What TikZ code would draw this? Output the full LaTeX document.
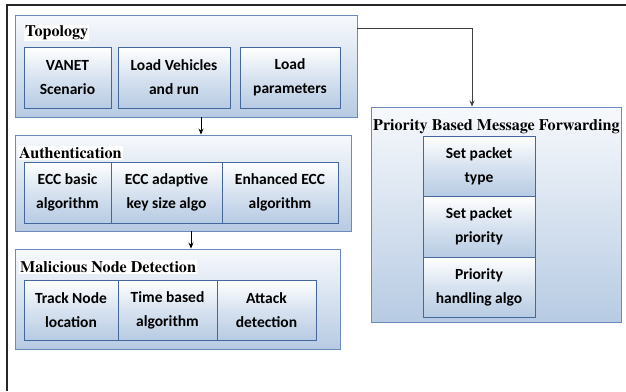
\documentclass[tikz,border=0pt]{standalone}
\usepackage{fontspec}
\newfontfamily\headfont{texgyretermes}[Extension=.otf, UprightFont=*-regular, BoldFont=*-bold]
\newfontfamily\cellfont{Carlito}
\usetikzlibrary{arrows.meta}
\definecolor{cellblue}{HTML}{B7CBE3}
\definecolor{cellline}{HTML}{44679C}
\definecolor{groupline}{HTML}{6A8BBC}
\definecolor{grouptop}{HTML}{F7F9FC}
\tikzset{
  group/.style={draw=groupline, line width=0.9pt, top color=grouptop, bottom color=cellblue,
    inner sep=0pt},
  cell/.style={draw=cellline, line width=0.9pt, top color=white, bottom color=cellblue,
    middle color=white!45!cellblue,
    inner sep=0pt, align=center, text=black,
    font=\cellfont\bfseries\fontsize{15.5}{24}\selectfont},
  heading/.style={anchor=west, inner sep=1pt, fill=white,
    font=\headfont\bfseries\fontsize{16.1}{18}\selectfont},
  arr/.style={-{Stealth[length=6pt,width=5pt]}, line width=0.8pt},
}
\begin{document}
\begin{tikzpicture}[x=1pt, y=-1pt]
\useasboundingbox (0,0) rectangle (626,391);
\fill[white] (0,0) rectangle (626,391);
% page frame: top and left rules
\draw[black!85, line width=1.4pt] (626,5) -- (7,5) -- (7,391);

% Topology group
\node[group, minimum width=342, minimum height=102] (topo) at (186,66) {};
\node[heading] (topoT) at (24,33) {Topology};
\node[cell, minimum width=87, minimum height=61] (vanet) at (67.5,77.5) {VANET\\Scenario};
\node[cell, minimum width=112, minimum height=61] (loadv) at (174,77.5) {Load Vehicles\\and run};
\node[cell, minimum width=100, minimum height=61] (loadp) at (290,77.5) {Load\\parameters};

% Authentication group
\node[group, minimum width=336, minimum height=96] (auth) at (183,183) {};
\node[heading] (authT) at (18,153) {Authentication};
\node[cell, minimum width=87, minimum height=61] (ecc1) at (67.5,192.5) {ECC basic\\algorithm};
\node[cell, minimum width=111, minimum height=61] (ecc2) at (166.5,192.5) {ECC adaptive\\key size algo};
\node[cell, minimum width=116, minimum height=61] (ecc3) at (280,192.5) {Enhanced ECC\\algorithm};

% Malicious node detection group
\node[group, minimum width=325, minimum height=100] (mal) at (177.5,299) {};
\node[heading] (malT) at (19,267) {Malicious Node Detection};
\node[cell, minimum width=94, minimum height=60] (track) at (71,310) {Track Node\\location};
\node[cell, minimum width=99, minimum height=60] (timeb) at (167.5,310) {Time based\\algorithm};
\node[cell, minimum width=99, minimum height=60] (attack) at (266.5,310) {Attack\\detection};

% Priority based message forwarding group
\node[group, minimum width=250, minimum height=215] (prio) at (496,214.5) {};
\node[heading, fill=none, inner sep=0pt] (prioT) at (373,127) {Priority Based Message Forwarding};
\node[cell, minimum width=112, minimum height=60] (ptype) at (479,166) {Set packet\\type};
\node[cell, minimum width=112, minimum height=61] (pprio) at (479,226.5) {Set packet\\priority};
\node[cell, minimum width=112, minimum height=60] (phand) at (479,287) {Priority\\handling algo};

% connectors
\draw[arr] ([xshift=15pt]topo.south) -- ([xshift=15pt]topo.south |- auth.north);
\draw[arr] ([xshift=8pt]auth.south) -- ([xshift=8pt]auth.south |- mal.north);
\coordinate (bend) at (472,28);
\draw[arr, black!75] (topo.east |- bend) -- (bend) -- (bend |- prio.north);
\end{tikzpicture}
\end{document}
